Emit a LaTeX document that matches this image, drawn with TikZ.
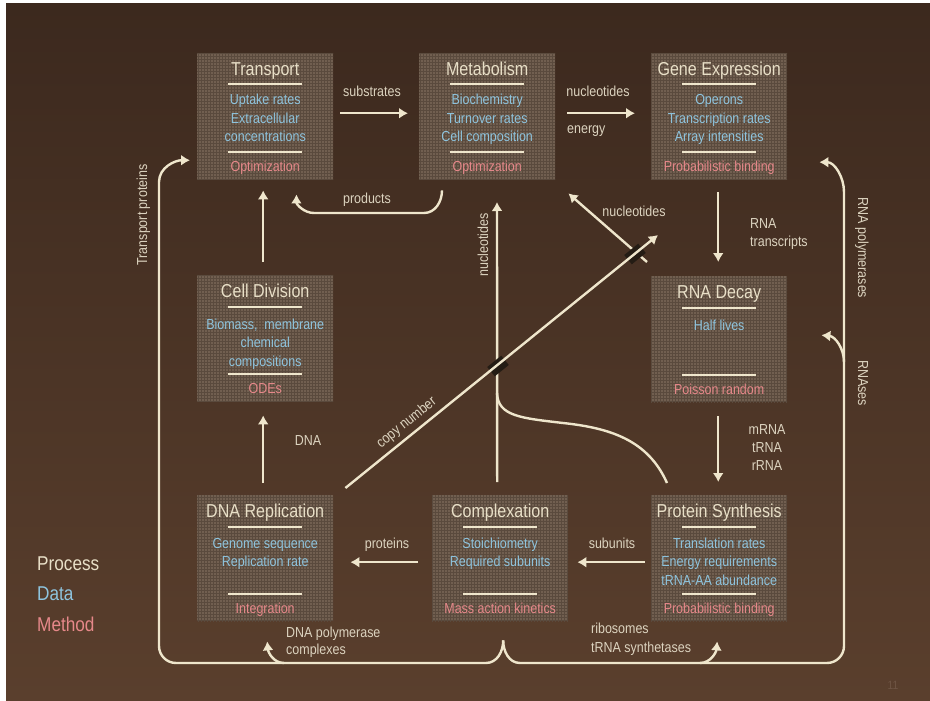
\documentclass[tikz,border=0pt]{standalone}
\usepackage{fontspec}
\setmainfont{Liberation Sans}[FakeStretch=0.86]
\usetikzlibrary{arrows.meta,patterns}
\definecolor{cream}{HTML}{EFE6CC}
\definecolor{ttl}{HTML}{E8DFC7}
\definecolor{dat}{HTML}{8EC4DE}
\definecolor{mth}{HTML}{E6888A}
\definecolor{lbl}{HTML}{DCD3BF}
\definecolor{boxfill}{HTML}{715F50}
\definecolor{boxgrid}{HTML}{5A4A3D}
\definecolor{bgtop}{HTML}{3C291E}
\definecolor{bgbot}{HTML}{5A3F2D}
\definecolor{patch}{HTML}{241C14}
\definecolor{pnum}{HTML}{6E5444}
\tikzset{
  conn/.style={draw=cream, line width=2.4pt},
  arr/.style={conn, -{Latex[length=9pt,width=11pt]}},
  rulel/.style={draw=cream, line width=2pt},
  box/.style={preaction={fill=boxfill}, pattern=grid, pattern color=boxgrid,
    minimum width=136pt, minimum height=126pt, anchor=north west, inner sep=0pt},
  ttlt/.style={text=ttl, font=\fontsize{18.7}{20}\selectfont, text height=13.4pt, text depth=3pt, inner sep=0pt},
  dtxt/.style={text=dat, font=\fontsize{14.5}{16}\selectfont, text height=10pt, text depth=2pt, inner sep=0pt},
  mtxt/.style={text=mth, font=\fontsize{14.5}{16}\selectfont, text height=10pt, text depth=2pt, inner sep=0pt},
  lab/.style={text=lbl, font=\fontsize{14.5}{16}\selectfont, text height=10pt, text depth=2pt, inner sep=0pt},
  legend/.style={font=\fontsize{20}{22}\selectfont, anchor=west, inner sep=0pt, text height=14pt, text depth=3pt},
  xpatch/.style={fill=patch, rotate=39, minimum width=18pt, minimum height=12pt, inner sep=0pt},
}
\newcommand\pbox[4]{%
  \node[box] (#1) at (#2,-#3) {};
  \node[ttlt] (#1-t) at ([yshift=-17pt]#1.north) {#4};
  \draw[rulel] ([xshift=-37pt,yshift=-31.5pt]#1.north) -- ([xshift=37pt,yshift=-31.5pt]#1.north);
  \draw[rulel] ([xshift=-37pt,yshift=-99pt]#1.north) -- ([xshift=37pt,yshift=-99pt]#1.north);
}
\newcommand\pdata[4]{\node[dtxt] (#1-d#2) at ([yshift=-#3pt]#1.north) {#4};}
\newcommand\pmeth[2]{\node[mtxt] (#1-m) at ([yshift=-114pt]#1.north) {#2};}
\begin{document}
\begin{tikzpicture}[x=1pt,y=1pt]
\useasboundingbox (0,0) rectangle (930,-701);
\fill[white] (0,0) rectangle (930,-701);
\shade[top color=bgtop, bottom color=bgbot] (6,-4) rectangle (930,-701);

% ---- boxes ----
\pbox{trans}{197}{53}{Transport}
\pdata{trans}{1}{48}{Uptake rates}
\pdata{trans}{2}{66.5}{Extracellular}
\pdata{trans}{3}{85}{concentrations}
\pmeth{trans}{Optimization}

\pbox{met}{419}{53}{Metabolism}
\pdata{met}{1}{48}{Biochemistry}
\pdata{met}{2}{66.5}{Turnover rates}
\pdata{met}{3}{85}{Cell composition}
\pmeth{met}{Optimization}

\pbox{gene}{651}{53}{Gene Expression}
\pdata{gene}{1}{48}{Operons}
\pdata{gene}{2}{66.5}{Transcription rates}
\pdata{gene}{3}{85}{Array intensities}
\pmeth{gene}{Probabilistic binding}

\pbox{cdiv}{197}{275}{Cell Division}
\pdata{cdiv}{1}{50}{Biomass,\ \ membrane}
\pdata{cdiv}{2}{68.5}{chemical}
\pdata{cdiv}{3}{87}{compositions}
\pmeth{cdiv}{ODEs}

\pbox{rdec}{651}{276}{RNA Decay}
\pdata{rdec}{1}{50}{Half lives}
\pmeth{rdec}{Poisson random}

\pbox{dnar}{197}{495}{DNA Replication}
\pdata{dnar}{1}{49}{Genome sequence}
\pdata{dnar}{2}{67.5}{Replication rate}
\pmeth{dnar}{Integration}

\pbox{cplx}{432}{495}{Complexation}
\pdata{cplx}{1}{49}{Stoichiometry}
\pdata{cplx}{2}{67.5}{Required subunits}
\pmeth{cplx}{Mass action kinetics}

\pbox{psyn}{651}{495}{Protein Synthesis}
\pdata{psyn}{1}{49}{Translation rates}
\pdata{psyn}{2}{67.5}{Energy requirements}
\pdata{psyn}{3}{86}{tRNA-AA abundance}
\pmeth{psyn}{Probabilistic binding}

% ---- straight arrows between boxes ----
\draw[arr] ([shift={(7pt,3pt)}]trans.east) -- ([shift={(-11pt,3pt)}]met.west);
\draw[arr] ([shift={(12pt,3pt)}]met.east) -- ([shift={(-16pt,3pt)}]gene.west);
\draw[arr] ([shift={(-2pt,13pt)}]cdiv.north) -- ([shift={(-2pt,-11pt)}]trans.south);
\draw[arr] ([shift={(-2pt,12pt)}]dnar.north) -- ([shift={(-2pt,-14pt)}]cdiv.south);
\draw[arr] ([shift={(-1pt,-13pt)}]gene.south) -- ([shift={(-1pt,14pt)}]rdec.north);
\draw[arr] ([shift={(-1pt,-14pt)}]rdec.south) -- ([shift={(-1pt,13pt)}]psyn.north);
\draw[arr] ([shift={(-6pt,-4pt)}]psyn.west) -- ([shift={(9pt,-4pt)}]cplx.east);
\draw[arr] ([shift={(-14pt,-4pt)}]cplx.west) -- ([shift={(17pt,-4pt)}]dnar.east);

% ---- products ----
\coordinate (prodA) at ([shift={(23pt,-11pt)}]met.south west);
\coordinate (prodB) at ([shift={(-37pt,-15pt)}]trans.south east);
\draw[arr] (prodA) to[out=-90,in=0] (424,-213) -- (314,-213) to[out=180,in=-90] (prodB);

% ---- central lines ----
\coordinate (nucA) at ([shift={(-3pt,13pt)}]cplx.north);
\coordinate (nucB) at (497,-202);
\draw[arr] (nucA) -- (nucB);
\draw[conn] ([shift={(16pt,12pt)}]psyn.north west) .. controls (648,-440) and (610,-428) .. (563,-423)
  .. controls (520,-418) and (498,-416) .. (497,-393);
\coordinate (dnA) at ([shift={(-4pt,14pt)}]rdec.north west);
\coordinate (dnB) at ([shift={(13pt,-14pt)}]met.south east);
\draw[arr] (dnA) -- (dnB);
\coordinate (cnA) at ([shift={(12pt,7pt)}]dnar.north east);
\coordinate (cnB) at (658,-235);
\node[xpatch] (x1) at (498,-366) {};
\node[xpatch] (x2) at (635,-254) {};
\draw[arr] (cnA) -- (cnB) node[lab, pos=0.22, sloped, above=5pt] (cnl) {copy number};

% ---- big feedback loop ----
\coordinate (brace) at ([shift={(3pt,-19pt)}]cplx.south);
\coordinate (tpL) at ([shift={(-7pt,-44pt)}]trans.west);
\coordinate (tpR) at ([shift={(32pt,-46pt)}]gene.east);
\draw[arr] (brace) to[out=-90,in=0] (486,-663) -- (176,-663) to[out=180,in=-90] (159,-646) -- (159,-182) to[out=90,in=180] (tpL);
\draw[arr] (brace) to[out=-90,in=180] (520,-663) -- (827,-663) to[out=0,in=-90] (844,-646) -- (844,-192) to[out=90,in=0] (tpR);
\draw[arr] (844,-362) to[out=90,in=-5] ([shift={(34pt,4pt)}]rdec.east);
\draw[arr] (284,-663) to[out=180,in=-85] ([shift={(2pt,-20pt)}]dnar.south);
\draw[arr] (700,-663) to[out=0,in=-95] ([shift={(-2pt,-20pt)}]psyn.south);

% ---- labels ----
\node[lab] (l1) at (372,-93) {substrates};
\node[lab] (l2) at (598,-93) {nucleotides};
\node[lab, anchor=west] (l3) at (567,-130) {energy};
\node[lab] (l4) at (367,-199) {products};
\node[lab] (l5) at (634,-212) {nucleotides};
\node[lab, rotate=90] (l6) at (484,-245) {nucleotides};
\node[lab, anchor=west] (l7) at (750,-224) {RNA};
\node[lab, anchor=west] (l8) at (750,-242) {transcripts};
\node[lab] (l9) at (308,-441) {DNA};
\node[lab] (l10) at (767,-430) {mRNA};
\node[lab] (l11) at (767,-448) {tRNA};
\node[lab] (l12) at (767,-466) {rRNA};
\node[lab] (l13) at (387,-544) {proteins};
\node[lab] (l14) at (612,-544) {subunits};
\node[lab, anchor=west] (l15) at (286,-633) {DNA polymerase};
\node[lab, anchor=west] (l16) at (286,-650) {complexes};
\node[lab, anchor=west] (l17) at (591,-629) {ribosomes};
\node[lab, anchor=west] (l18) at (591,-648) {tRNA synthetases};
\node[lab, rotate=90] (l19) at (143,-215) {Transport proteins};
\node[lab, rotate=-90] (l20) at (862,-248) {RNA polymerases};
\node[lab, rotate=-90] (l21) at (862,-383) {RNAses};
\node[lab, text=pnum, font=\fontsize{12}{14}\selectfont] (pg) at (893,-685) {11};

% ---- legend ----
\node[legend, text=ttl] (lgP) at (37,-565) {Process};
\node[legend, text=dat] (lgD) at (37,-595) {Data};
\node[legend, text=mth] (lgM) at (37,-626) {Method};
\end{tikzpicture}
\end{document}
